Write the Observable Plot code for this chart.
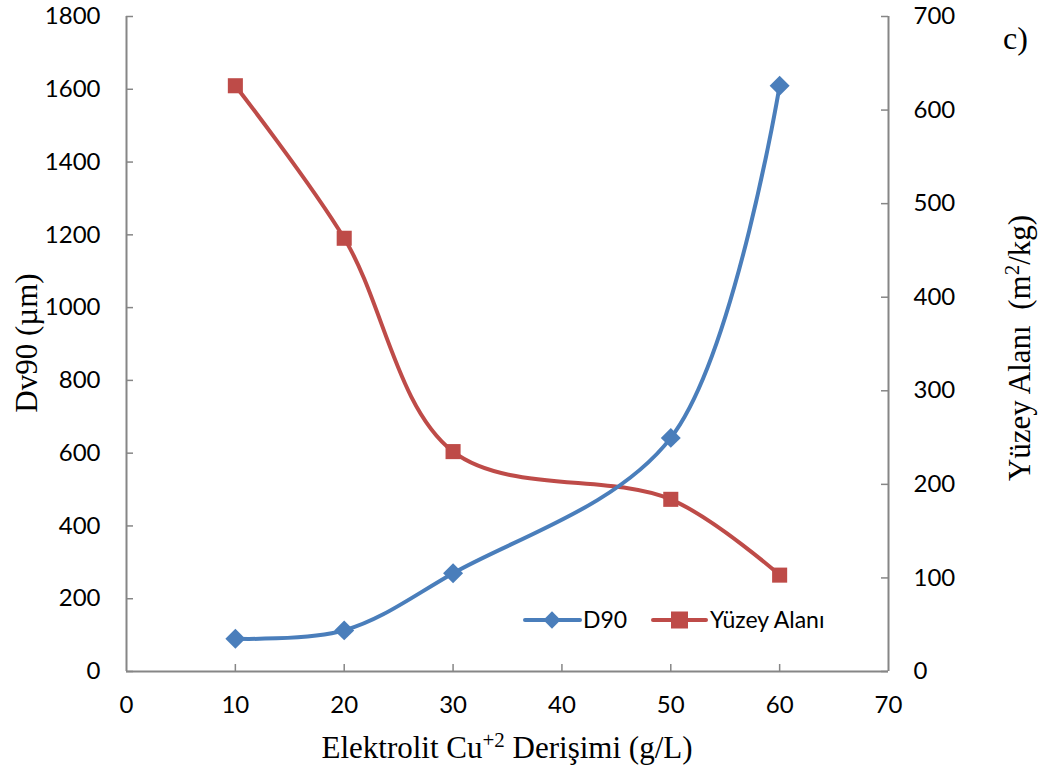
<!DOCTYPE html>
<html>
<head>
<meta charset="utf-8">
<script src="https://cdn.jsdelivr.net/npm/d3@7"></script>
<script src="https://cdn.jsdelivr.net/npm/@observablehq/plot@0.6"></script>
<style>
  html, body { margin: 0; padding: 0; background: #fff; }
</style>
</head>
<body>
<div id="chart"></div>
<script>
// ---- data ----
const concentration = [10, 20, 30, 50, 60];          // Elektrolit Cu+2 Derişimi (g/L)
const d90 = [90, 113, 270, 642, 1610];               // Dv90 (µm), left axis
const surfaceArea = [626, 463, 235, 184, 103];       // Yüzey Alanı (m2/kg), right axis
const xTicks = [0, 10, 20, 30, 40, 50, 60, 70];
const yLeftTicks = [0, 200, 400, 600, 800, 1000, 1200, 1400, 1600, 1800];
const yRightTicks = [0, 100, 200, 300, 400, 500, 600, 700];
const seriesNames = ["D90", "Yüzey Alanı"];

const leftMax = 1800, rightMax = 700;
const k = leftMax / rightMax;
const blue = "#4A7EBB", red = "#BE4B48", axisColor = "#868686";
const sans = "Lato, 'Open Sans', sans-serif";
const serif = "'Liberation Serif', 'Times New Roman', serif";

const dD90 = concentration.map((c, i) => ({x: c, y: d90[i]}));
const dSA = concentration.map((c, i) => ({x: c, y: surfaceArea[i] * k}));

const chart = Plot.plot({
  width: 1046,
  height: 774,
  marginLeft: 126,
  marginRight: 158,
  marginTop: 16,
  marginBottom: 103,
  x: {domain: [0, 70]},
  y: {domain: [0, leftMax]},
  style: {fontFamily: sans, fontSize: "24px", color: "#000", background: "#fff", overflow: "visible"},
  marks: [
    Plot.axisX({ticks: xTicks, tickSize: 0, tickPadding: 24, label: null, fill: "#000", tickFormat: d => String(d)}),
    Plot.axisY({ticks: yLeftTicks, anchor: "left", tickSize: 0, tickPadding: 26, label: null, fill: "#000", tickFormat: d => String(d)}),
    Plot.axisY({ticks: yRightTicks.map(v => v * k), anchor: "right", tickSize: 0, tickPadding: 25, label: null, fill: "#000",
      tickFormat: d => String(Math.round(d / k))}),
    // axis lines
    Plot.ruleY([0], {x1: 0, x2: 70, stroke: axisColor, strokeWidth: 2}),
    Plot.ruleX([0, 70], {y1: 0, y2: leftMax, stroke: axisColor, strokeWidth: 2}),
    // inward tick marks
    Plot.ruleX(xTicks.slice(1, -1), {x: d => d, y1: 0, y2: 0, insetTop: -7, stroke: axisColor, strokeWidth: 1.5}),
    Plot.ruleY(yLeftTicks, {y: d => d, x1: 0, x2: 0, insetRight: -7, stroke: axisColor, strokeWidth: 1.5}),
    Plot.ruleY(yRightTicks.map(v => v * k), {y: d => d, x1: 70, x2: 70, insetLeft: -7, stroke: axisColor, strokeWidth: 1.5}),
    // series
    Plot.line(dSA, {x: "x", y: "y", curve: "catmull-rom", stroke: red, strokeWidth: 4}),
    Plot.dot(dSA, {x: "x", y: "y", symbol: "square", r: 8.5, fill: red, stroke: null}),
    Plot.line(dD90, {x: "x", y: "y", curve: "catmull-rom", stroke: blue, strokeWidth: 4}),
    Plot.dot(dD90, {x: "x", y: "y", symbol: "diamond2", r: 9, fill: blue, stroke: null})
  ]
});

document.getElementById("chart").appendChild(chart);

// ---- titles and legend ----
const svg = d3.select(chart);

// x-axis title with superscript
const xt = svg.append("text")
  .attr("x", 507).attr("y", 758)
  .attr("text-anchor", "middle")
  .attr("font-family", serif).attr("font-size", 31).attr("fill", "#000");
xt.append("tspan").text("Elektrolit Cu");
xt.append("tspan").attr("dy", -11).attr("font-size", 21).text("+2");
xt.append("tspan").attr("dy", 11).text(" Derişimi (g/L)");

// left y title
svg.append("text")
  .attr("transform", "translate(37,343) rotate(-90)")
  .attr("text-anchor", "middle")
  .attr("font-family", serif).attr("font-size", 31).attr("fill", "#000")
  .text("Dv90 (µm)");

// right y title with superscript
const rt = svg.append("text")
  .attr("transform", "translate(1030,348) rotate(-90)")
  .attr("text-anchor", "middle")
  .attr("font-family", serif).attr("font-size", 31).attr("fill", "#000");
rt.append("tspan").text("Yüzey Alanı  (m");
rt.append("tspan").attr("dy", -11).attr("font-size", 21).text("2");
rt.append("tspan").attr("dy", 11).text("/kg)");

// panel label
svg.append("text")
  .attr("x", 1003).attr("y", 49)
  .attr("text-anchor", "start")
  .attr("font-family", serif).attr("font-size", 32).attr("fill", "#000")
  .text("c)");

// legend
const leg = svg.append("g").attr("font-family", sans).attr("font-size", 23).attr("text-anchor", "start");
const ly = 620;
leg.append("line").attr("x1", 525).attr("x2", 580).attr("y1", ly).attr("y2", ly)
  .attr("stroke", blue).attr("stroke-width", 4).attr("stroke-linecap", "round");
leg.append("path").attr("d", d3.symbol(d3.symbolDiamond2, 190)())
  .attr("transform", `translate(552,${ly})`).attr("fill", blue);
leg.append("text").attr("x", 583).attr("y", ly + 8).attr("fill", "#000").text(seriesNames[0]);
leg.append("line").attr("x1", 653).attr("x2", 706).attr("y1", ly).attr("y2", ly)
  .attr("stroke", red).attr("stroke-width", 4).attr("stroke-linecap", "round");
leg.append("rect").attr("x", 671).attr("y", ly - 8.5).attr("width", 17).attr("height", 17).attr("fill", red);
leg.append("text").attr("x", 710).attr("y", ly + 8).attr("fill", "#000").text(seriesNames[1]);
</script>
</body>
</html>
